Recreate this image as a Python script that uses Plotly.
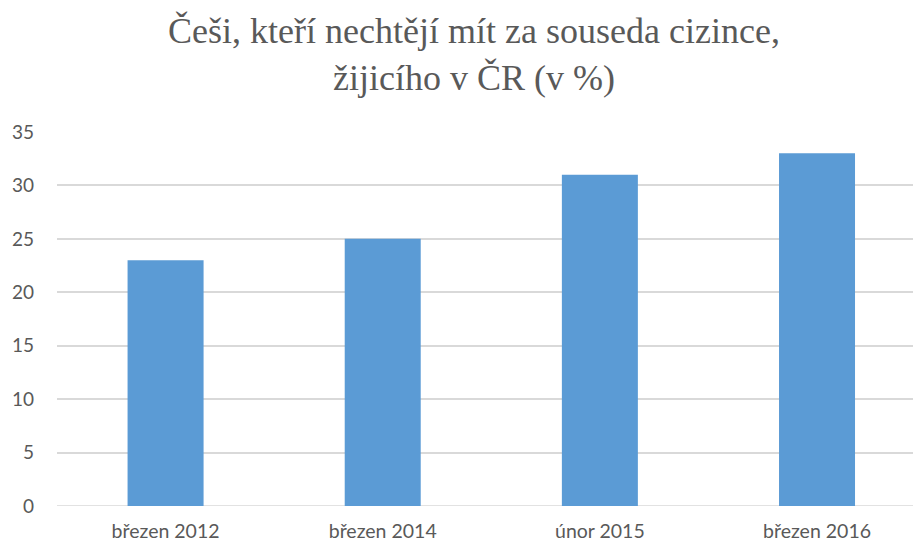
import plotly.graph_objects as go

categories = ["březen 2012", "březen 2014", "únor 2015", "březen 2016"]
values = [23, 25, 31, 33]
y_ticks = [0, 5, 10, 15, 20, 25, 30, 35]
title_text = "Češi, kteří nechtějí mít za souseda cizince,<br>žijicího v ČR (v %)"

fig = go.Figure()
fig.add_trace(go.Bar(
    x=list(range(len(categories))),
    y=values,
    marker=dict(color="#5b9bd5", line=dict(width=0)),
    width=0.35,
    hoverinfo="skip",
))

fig.update_layout(
    width=913, height=546,
    margin=dict(l=57, r=0, t=132, b=40),
    paper_bgcolor="white", plot_bgcolor="white",
    showlegend=False,
    title=dict(
        text=title_text,
        x=474/913, xref="container", xanchor="center",
        y=1 - 43/546, yref="container", yanchor="top",
        font=dict(family="Liberation Serif", size=36, color="#595959"),
    ),
    xaxis=dict(
        tickmode="array",
        tickvals=list(range(len(categories))),
        ticktext=categories,
        range=[-0.5, 3.442],
        showgrid=False, zeroline=False, showline=False,
        ticks="", ticklabelstandoff=11,
        tickfont=dict(family="Lato", size=19.5, color="#595959"),
    ),
    yaxis=dict(
        range=[0, 35],
        tickmode="array", tickvals=y_ticks,
        showgrid=True, gridcolor="#d9d9d9", gridwidth=1.5,
        zeroline=False, showline=False, ticks="",
        ticklabelstandoff=22,
        tickfont=dict(family="Lato", size=19, color="#595959"),
    ),
)
fig.add_hline(y=0, line=dict(color="#d9d9d9", width=1.5), layer="below")

fig.write_html("out.html")
